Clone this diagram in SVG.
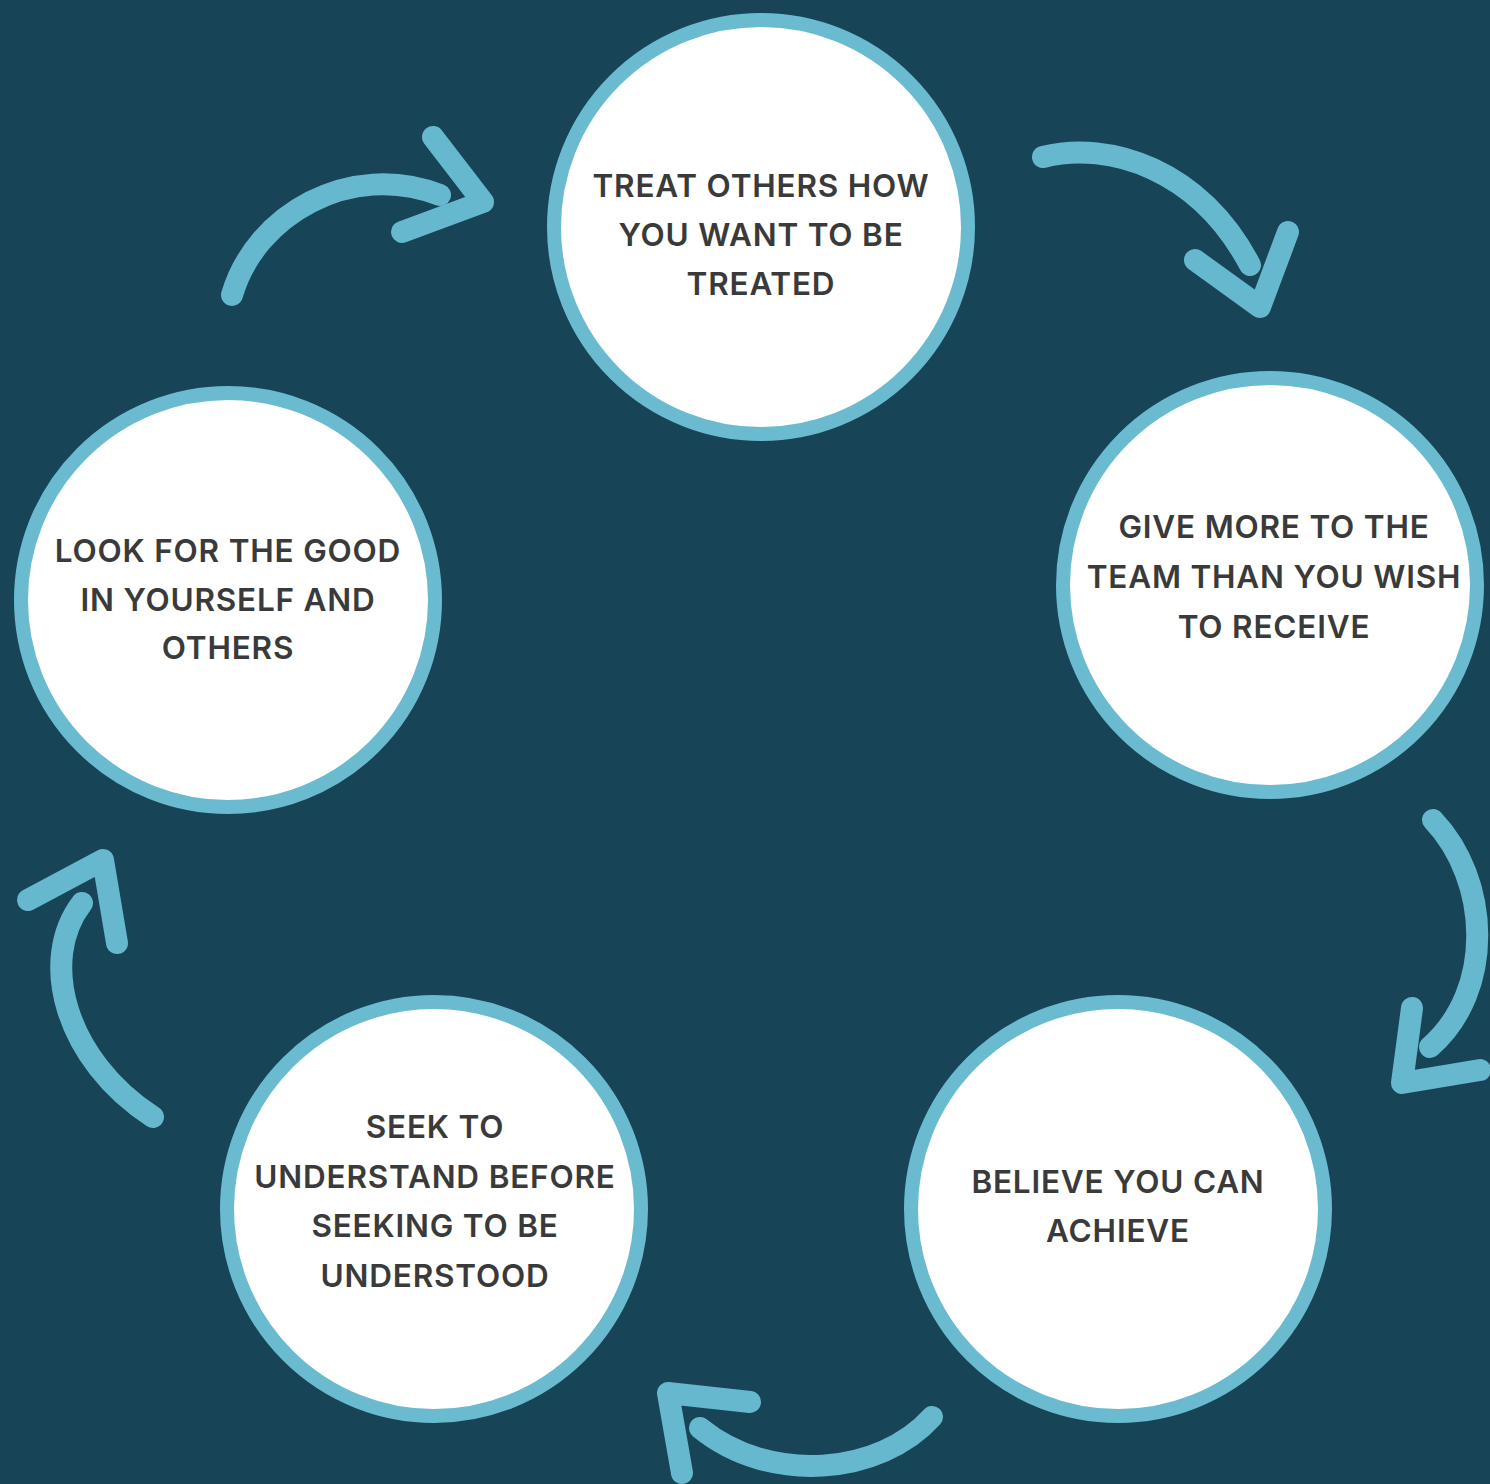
<svg xmlns="http://www.w3.org/2000/svg" width="1490" height="1484" viewBox="0 0 1490 1484">
<style>
.node circle{fill:#ffffff;stroke:#6abbd0;stroke-width:14}
.node text{font-family:Inter,"Open Sans","Liberation Sans",sans-serif;font-weight:600;font-size:31.5px;letter-spacing:0.8px;fill:#3a3a3a;text-anchor:middle}
.arrow path,.arrow polyline{fill:none;stroke:#66b8ce;stroke-width:22;stroke-linecap:round;stroke-linejoin:round}
</style>
<rect width="1490" height="1484" fill="#184457"/>
<g id="connectors">
<g class="arrow" id="a1"><path d="M232,295 C255,215 350,160 440,195"/><polyline points="433,137 483,202 402,232"/></g>
<g class="arrow" id="a2"><path d="M1043,157 C1110,140 1200,170 1250,265"/><polyline points="1195,260 1260,307 1288,232"/></g>
<g class="arrow" id="a3"><path d="M1433,820 C1490,880 1495,990 1430,1047"/><polyline points="1412,1008 1402,1083 1480,1070"/></g>
<g class="arrow" id="a4"><path d="M932,1417 C880,1475 770,1485 700,1428"/><polyline points="750,1402 668,1393 682,1473"/></g>
<g class="arrow" id="a5"><path d="M153,1117 C65,1060 38,960 82,903"/><polyline points="28,900 103,860 117,943"/></g>
</g>
<g class="node" id="n1"><circle cx="761" cy="227" r="207"/>
<text x="761" y="197">TREAT OTHERS HOW</text><text x="761" y="246">YOU WANT TO BE</text><text x="761" y="295">TREATED</text></g>
<g class="node" id="n2"><circle cx="1270" cy="585" r="207"/>
<text x="1274" y="538">GIVE MORE TO THE</text><text x="1274" y="588">TEAM THAN YOU WISH</text><text x="1274" y="638">TO RECEIVE</text></g>
<g class="node" id="n3"><circle cx="1118" cy="1209" r="207"/>
<text x="1118" y="1193">BELIEVE YOU CAN</text><text x="1118" y="1242">ACHIEVE</text></g>
<g class="node" id="n4"><circle cx="434" cy="1209" r="207"/>
<text x="435" y="1138">SEEK TO</text><text x="435" y="1188">UNDERSTAND BEFORE</text><text x="435" y="1237">SEEKING TO BE</text><text x="435" y="1287">UNDERSTOOD</text></g>
<g class="node" id="n5"><circle cx="228" cy="600" r="207"/>
<text x="228" y="562">LOOK FOR THE GOOD</text><text x="228" y="611">IN YOURSELF AND</text><text x="228" y="659">OTHERS</text></g>
</svg>
